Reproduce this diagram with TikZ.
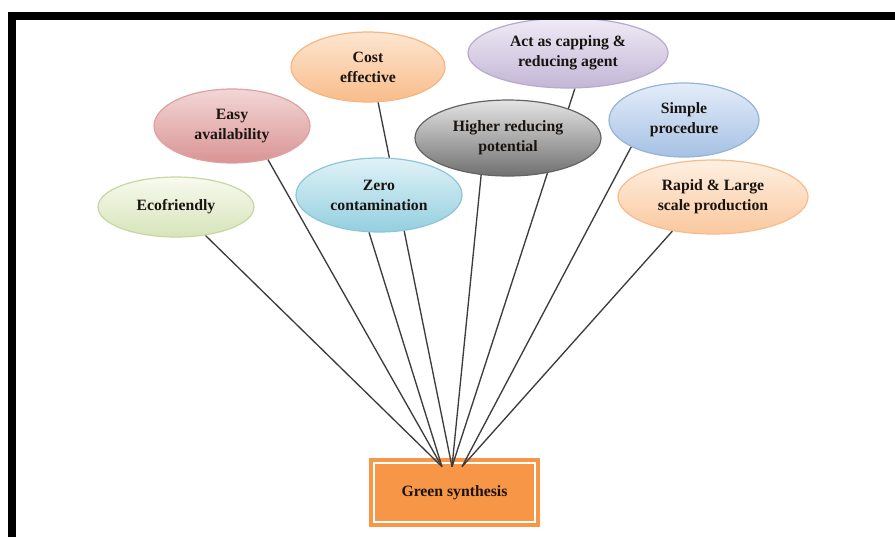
\documentclass[tikz,border=0pt]{standalone}
\usepackage{fontspec}
\setmainfont{Liberation Serif}
\usetikzlibrary{shapes.geometric,calc}
\pgfdeclarelayer{bg}
\pgfdeclarelayer{lines}
\pgfsetlayers{bg,lines,main}
\definecolor{ecoT}{RGB}{248,250,238}\definecolor{ecoM}{RGB}{214,228,186}\definecolor{ecoB}{RGB}{198,216,160}
\definecolor{easyT}{RGB}{243,214,214}\definecolor{easyM}{RGB}{217,148,148}\definecolor{easyB}{RGB}{222,160,160}
\definecolor{costT}{RGB}{253,230,208}\definecolor{costM}{RGB}{249,188,138}\definecolor{costB}{RGB}{246,182,132}
\definecolor{zeroT}{RGB}{224,242,247}\definecolor{zeroM}{RGB}{148,207,223}\definecolor{zeroB}{RGB}{140,198,216}
\definecolor{highT}{RGB}{228,228,228}\definecolor{highM}{RGB}{112,112,112}\definecolor{highB}{RGB}{100,100,100}
\definecolor{capT}{RGB}{240,235,246}\definecolor{capM}{RGB}{195,182,214}\definecolor{capB}{RGB}{185,170,205}
\definecolor{simT}{RGB}{228,237,249}\definecolor{simM}{RGB}{166,193,228}\definecolor{simB}{RGB}{150,180,215}
\definecolor{rapT}{RGB}{254,240,226}\definecolor{rapM}{RGB}{250,200,158}\definecolor{rapB}{RGB}{247,188,142}
\definecolor{boxorange}{RGB}{247,150,70}
\definecolor{linegray}{RGB}{60,60,60}
\definecolor{txt}{RGB}{25,20,15}
\begin{document}
\begin{tikzpicture}[x=0.75pt,y=-0.75pt,
  lbl/.style={font=\bfseries\fontsize{11.8}{15}\selectfont, align=center, text=txt},
  ell/.style n args={5}{ellipse, inner sep=0pt, minimum width=#1*0.75pt,
    minimum height=#2*0.75pt, draw=#3, line width=0.9pt, top color=#4, bottom color=#5, lbl},
  conn/.style={draw=linegray, line width=1pt},
  gsbox/.style={rectangle, fill=boxorange, minimum width=171*0.75pt, minimum height=69*0.75pt, lbl}
]
\useasboundingbox (0,0) rectangle (895,537);

\node[ell={156}{60}{ecoB}{ecoT}{ecoM}] (eco) at (176,207) {Ecofriendly};
\node[ell={156}{74}{easyB}{easyT}{easyM}] (easy) at (232,126) {Easy\\availability};
\node[ell={154}{70}{costB}{costT}{costM}] (cost) at (368,67) {Cost\\effective};
\node[ell={166}{74}{zeroB}{zeroT}{zeroM}] (zero) at (379,195) {Zero\\contamination};
\node[ell={186}{76}{highB}{highT}{highM}] (higher) at (508,138) {Higher reducing\\potential};
\node[ell={200}{70}{capB}{capT}{capM}] (cap) at (568,53) {Act as capping \&\\reducing agent};
\node[ell={150}{74}{simB}{simT}{simM}] (simple) at (684,120) {Simple\\procedure};
\node[ell={190}{74}{rapB}{rapT}{rapM}] (rapid) at (713,197) {Rapid \& Large\\scale production};

\begin{pgfonlayer}{bg}
\fill[white] (0,0) rectangle (895,537);
\node[gsbox] (gs) at (454.5,492.5) {Green synthesis};
\draw[white, line width=1.3pt] ($(gs.south west)+(5,-5)$) rectangle ($(gs.north east)+(-5,5)$);
\end{pgfonlayer}

\coordinate (c1) at ($(gs.north)+(-12.5,9)$);
\coordinate (c2) at ($(gs.north)+(-2.5,9)$);
\coordinate (c3) at ($(gs.north)+(7.5,9)$);

\begin{pgfonlayer}{lines}
\draw[conn] (eco.-44) -- (c1);
\draw[conn] (easy.-43) -- (c1);
\draw[conn] (zero.-105) -- (c1);
\draw[conn] (cost.-74) -- (c2);
\draw[conn] (higher.-126) -- (c2);
\draw[conn] (cap.-79) -- (c2);
\draw[conn] (simple.-153) -- (c3);
\draw[conn] (rapid.-140) -- (c3);
\end{pgfonlayer}

\fill[black] (8,12) rectangle (895,20);
\fill[black] (8,12) rectangle (16,537);
\end{tikzpicture}
\end{document}
